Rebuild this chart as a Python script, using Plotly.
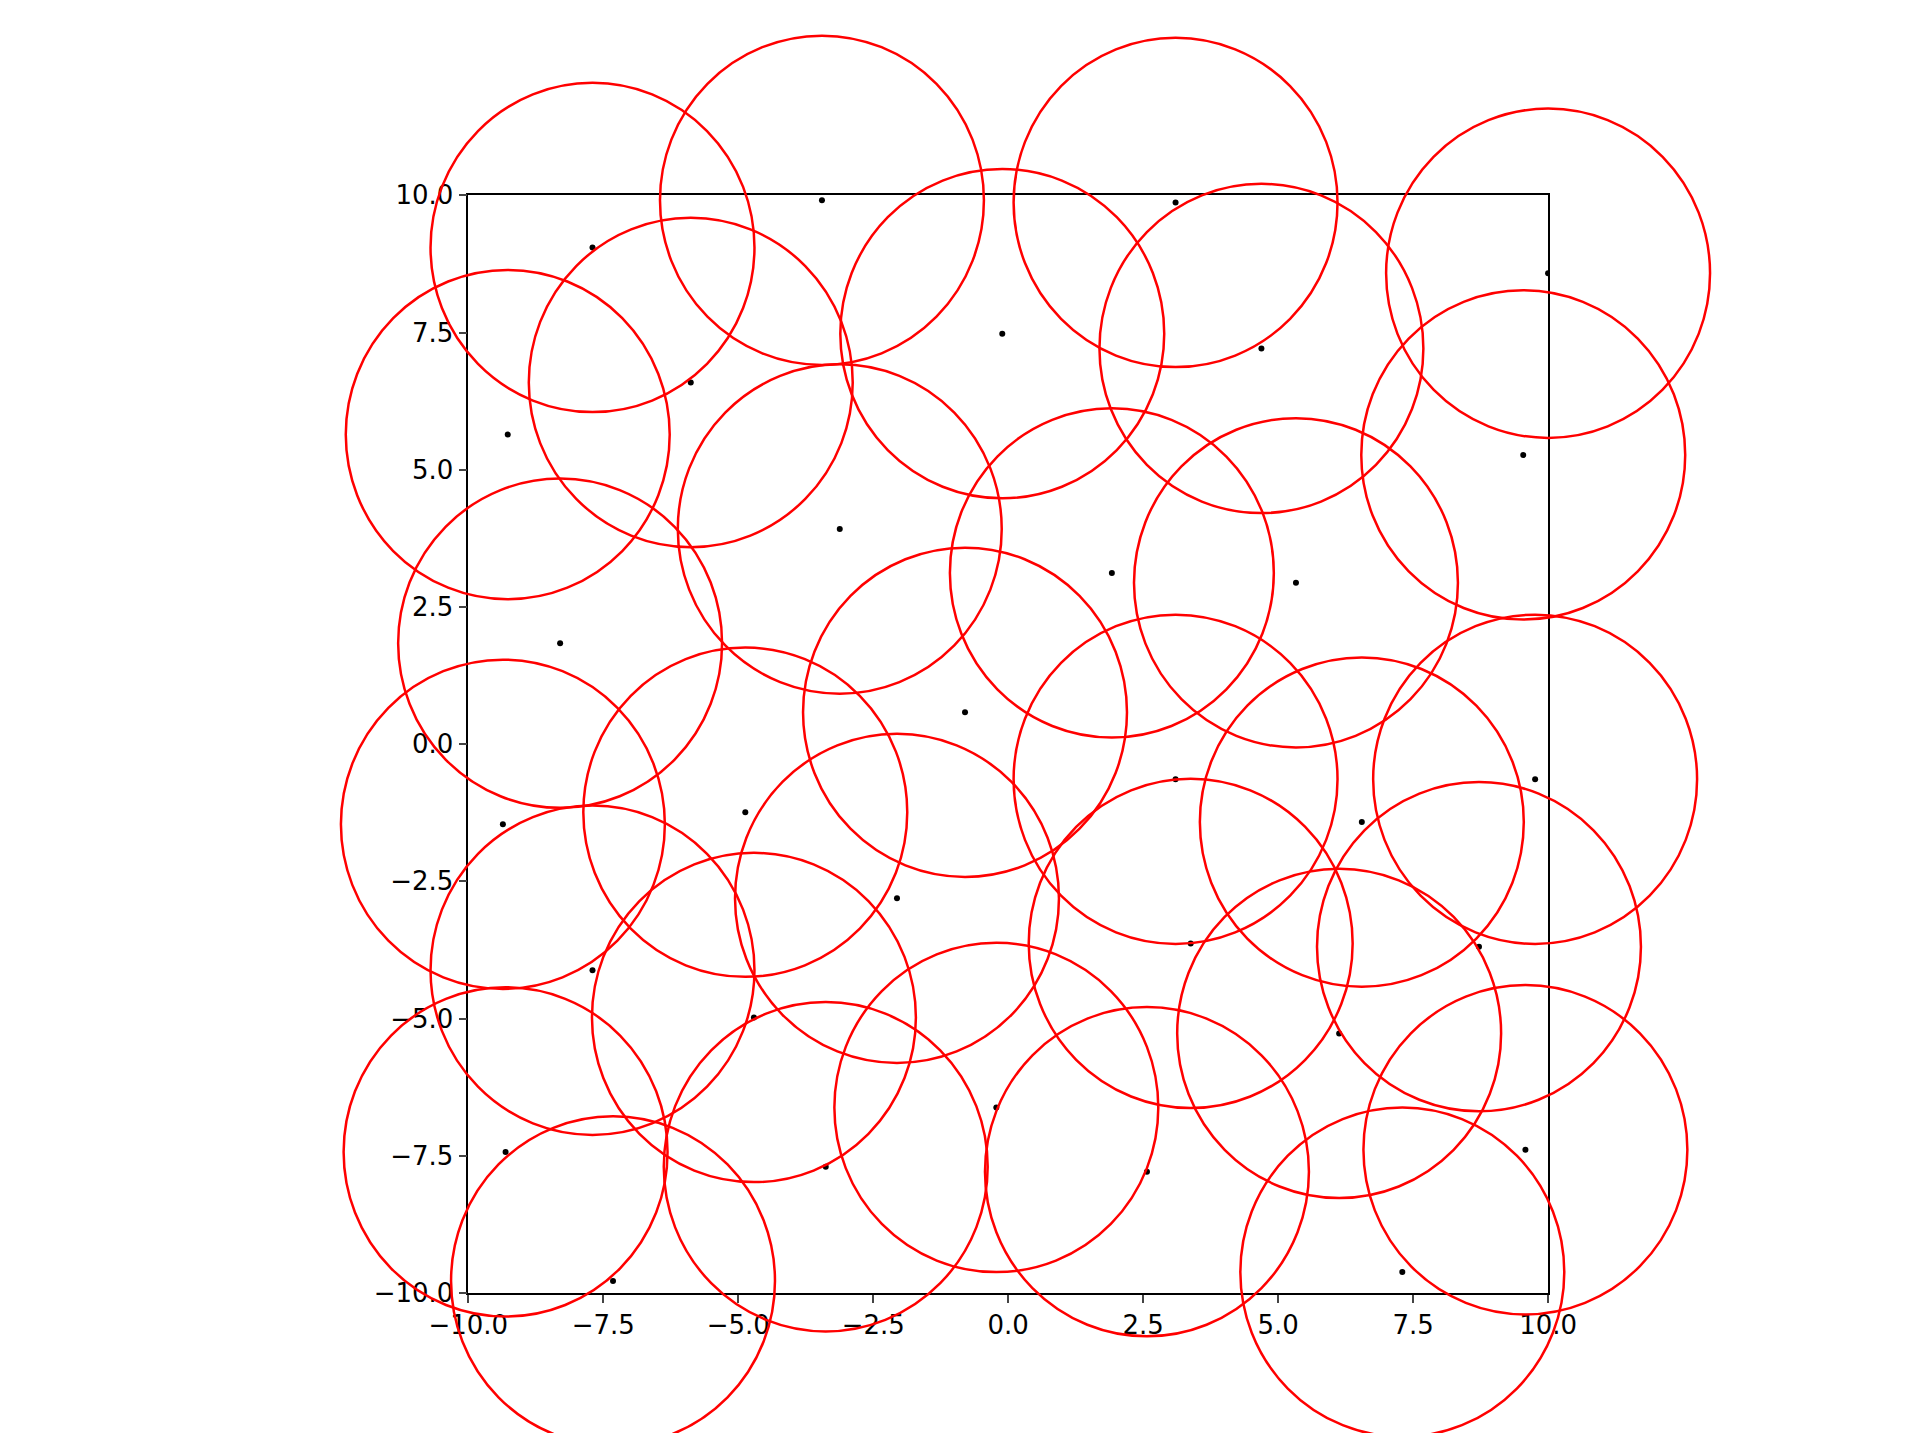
import plotly.graph_objects as go

# centres des points
xs = [-7.70, -3.45, 3.10, 10.0, -5.88, -0.11, 4.69, -9.27, 9.54, -3.12, 1.92, 5.33,
      -8.30, -0.80, 3.10, 9.76, -9.36, -4.87, 6.55, -2.06, 3.38, 8.72, -7.70, -4.71,
      6.13, -0.22, -9.31, -3.38, 2.57, 9.58, -7.32, 7.30]
ys = [9.05, 9.91, 9.87, 8.58, 6.59, 7.48, 7.21, 5.64, 5.27, 3.92, 3.12, 2.94,
      1.84, 0.58, -0.64, -0.64, -1.46, -1.24, -1.42, -2.81, -3.63, -3.69, -4.12, -4.98,
      -5.27, -6.62, -7.43, -7.70, -7.79, -7.39, -9.78, -9.62]
radius = 3.0
ticks = [-10, -7.5, -5, -2.5, 0, 2.5, 5, 7.5, 10]

W, H = 1920, 1440
left, right, top, bottom = 436, 1556, 176, 1297
sx = (right - left) / 20
sy = (bottom - top) / 20

fig = go.Figure()
# axe invisible couvrant toute la figure pour que les cercles ne soient pas coupés
fig.add_trace(go.Scatter(x=[0], y=[0], xaxis="x2", yaxis="y2", mode="markers",
                         marker=dict(opacity=0), showlegend=False, hoverinfo="skip"))
fig.add_trace(go.Scatter(x=xs, y=ys, mode="markers",
                         marker=dict(color="black", size=6), showlegend=False))

for x, y in zip(xs, ys):
    fig.add_shape(type="circle", xref="x2", yref="y2",
                  x0=x - radius, x1=x + radius, y0=y - radius, y1=y + radius,
                  line=dict(color="red", width=2.5))

axis_style = dict(range=[-10, 10], tickvals=ticks, tickformat=".1f",
                  showline=True, linecolor="black", linewidth=1.5, mirror=True,
                  ticks="outside", ticklen=8, tickwidth=1.5, showgrid=False,
                  zeroline=False, tickfont=dict(size=26, color="black"))

fig.update_layout(
    width=W, height=H, margin=dict(l=0, r=0, t=0, b=0),
    plot_bgcolor="rgba(0,0,0,0)", paper_bgcolor="white",
    font=dict(family="DejaVu Sans"),
    xaxis=dict(domain=[left / W, right / W], anchor="y", **axis_style),
    yaxis=dict(domain=[1 - bottom / H, 1 - top / H], anchor="x", **axis_style),
    xaxis2=dict(domain=[0, 1], range=[-10 - left / sx, 10 + (W - right) / sx],
                visible=False, anchor="y2", fixedrange=True),
    yaxis2=dict(domain=[0, 1], range=[-10 - (H - bottom) / sy, 10 + top / sy],
                visible=False, anchor="x2", fixedrange=True),
)

fig.write_html("out.html")
